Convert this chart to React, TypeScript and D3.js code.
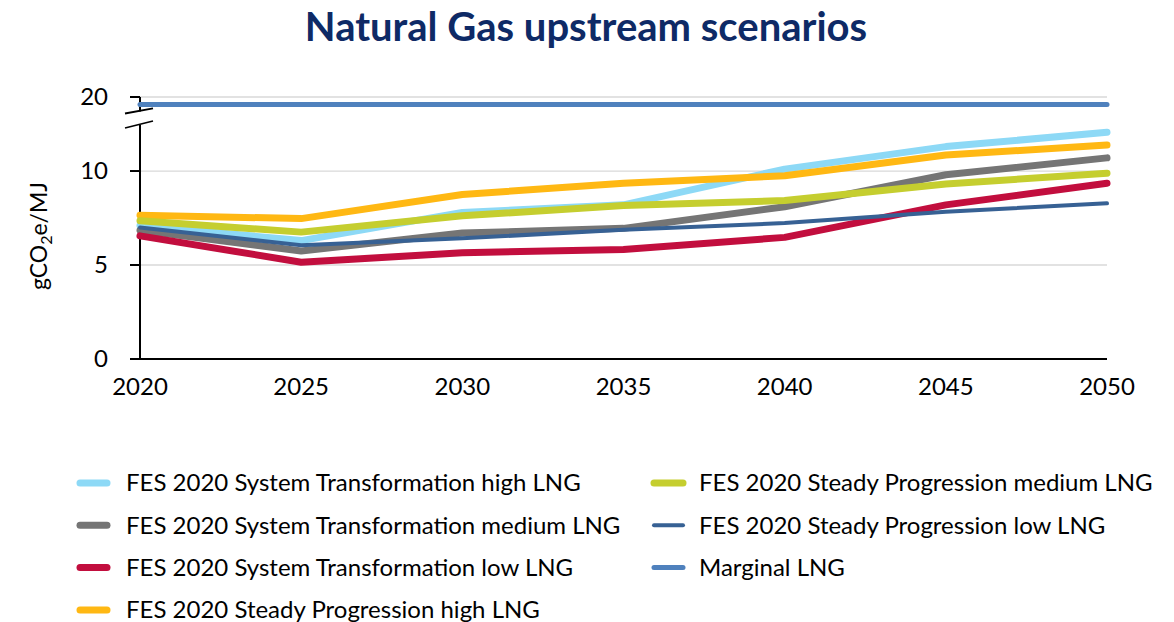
import React from "react";
import * as d3 from "d3";

const years = [2020, 2025, 2030, 2035, 2040, 2045, 2050];
const stHigh = [7.1, 6.3, 7.8, 8.2, 10.1, 11.3, 12.06];
const stMedium = [6.85, 5.75, 6.7, 6.95, 8.1, 9.8, 10.7];
const stLow = [6.55, 5.15, 5.65, 5.83, 6.47, 8.2, 9.35];
const spHigh = [7.65, 7.47, 8.75, 9.35, 9.75, 10.85, 11.38];
const spMedium = [7.35, 6.75, 7.62, 8.16, 8.43, 9.31, 9.88];
const spLow = [7.0, 6.05, 6.42, 6.88, 7.23, 7.84, 8.28];
const marginal = [19.6, 19.6, 19.6, 19.6, 19.6, 19.6, 19.6];

const yTicks = [0, 5, 10, 20];
const gridValues = [5, 10, 20];
const title = "Natural Gas upstream scenarios";

const series = [
  { name: "FES 2020 System Transformation high LNG", values: stHigh, color: "#8DD9F6", width: 7 },
  { name: "FES 2020 System Transformation medium LNG", values: stMedium, color: "#757575", width: 7 },
  { name: "FES 2020 System Transformation low LNG", values: stLow, color: "#C20E3E", width: 7 },
  { name: "FES 2020 Steady Progression high LNG", values: spHigh, color: "#FFB813", width: 7 },
  { name: "FES 2020 Steady Progression medium LNG", values: spMedium, color: "#C5CE2F", width: 7 },
  { name: "FES 2020 Steady Progression low LNG", values: spLow, color: "#376194", width: 4 },
  { name: "Marginal LNG", values: marginal, color: "#4F81BD", width: 5 },
];

const legendCol1 = [0, 1, 2, 3];
const legendCol2 = [4, 5, 6];

export default function App() {
  const x = d3.scaleLinear().domain([2020, 2050]).range([140, 1107]);
  const y = d3.scaleLinear().domain([0, 12.8, 19, 20]).range([359, 118.4, 115.8, 97]);
  const line = d3
    .line<number>()
    .x((_, i) => x(years[i]))
    .y((d) => y(d));

  const font = "Lato, 'Open Sans', sans-serif";
  const axisX = x(2020);

  return (
    <svg width={1174} height={622} style={{ position: "absolute", left: 0, top: 0, background: "#fff" }}>
      <text x={586} y={41} textAnchor="middle" fontFamily={font} fontWeight={700} fontSize={40} fill="#0E2A66">
        {title}
      </text>
      {gridValues.map((v) => (
        <line key={v} x1={axisX} x2={x(2050)} y1={y(v)} y2={y(v)} stroke="#D9D9D9" strokeWidth={1.3} />
      ))}
      {/* y axis with break */}
      <line x1={axisX} x2={axisX} y1={y(0)} y2={125} stroke="#000" strokeWidth={2} />
      <line x1={axisX} x2={axisX} y1={y(20)} y2={111.5} stroke="#000" strokeWidth={2} />
      <line x1={125} x2={153} y1={113.5} y2={108.3} stroke="#000" strokeWidth={1.8} />
      <line x1={125} x2={153} y1={128} y2={121} stroke="#000" strokeWidth={1.8} />
      {yTicks.map((v) => (
        <g key={v}>
          <line x1={axisX - 10} x2={axisX} y1={y(v)} y2={y(v)} stroke="#000" strokeWidth={2} />
          <text x={108} y={y(v)} dy="0.35em" textAnchor="end" fontFamily={font} fontSize={24} fill="#000">
            {v}
          </text>
        </g>
      ))}
      <line x1={axisX - 10} x2={x(2050)} y1={y(0)} y2={y(0)} stroke="#000" strokeWidth={2} />
      {years.map((yr) => (
        <text key={yr} x={x(yr)} y={395} textAnchor="middle" fontFamily={font} fontSize={24} fill="#000">
          {yr}
        </text>
      ))}
      <text
        transform={`translate(47,236) rotate(-90)`}
        textAnchor="middle"
        fontFamily={font}
        fontSize={23}
        fill="#000"
      >
        gCO<tspan fontSize={16} dy={5}>2</tspan>
        <tspan dy={-5}>e/MJ</tspan>
      </text>
      {series.map((s) => (
        <path
          key={s.name}
          d={line(s.values) || ""}
          fill="none"
          stroke={s.color}
          strokeWidth={s.width}
          strokeLinejoin="round"
          strokeLinecap="round"
        />
      ))}
      {legendCol1.map((idx, r) => {
        const s = series[idx];
        const yy = 483 + r * 42.3;
        return (
          <g key={s.name}>
            <line x1={80} x2={107} y1={yy} y2={yy} stroke={s.color} strokeWidth={s.width} strokeLinecap="round" />
            <text x={126} y={yy} dy="0.35em" fontFamily={font} fontSize={24} fill="#000">
              {s.name}
            </text>
          </g>
        );
      })}
      {legendCol2.map((idx, r) => {
        const s = series[idx];
        const yy = 483 + r * 42.3;
        return (
          <g key={s.name}>
            <line x1={654} x2={683} y1={yy} y2={yy} stroke={s.color} strokeWidth={s.width} strokeLinecap="round" />
            <text x={699} y={yy} dy="0.35em" fontFamily={font} fontSize={24} fill="#000">
              {s.name}
            </text>
          </g>
        );
      })}
    </svg>
  );
}
